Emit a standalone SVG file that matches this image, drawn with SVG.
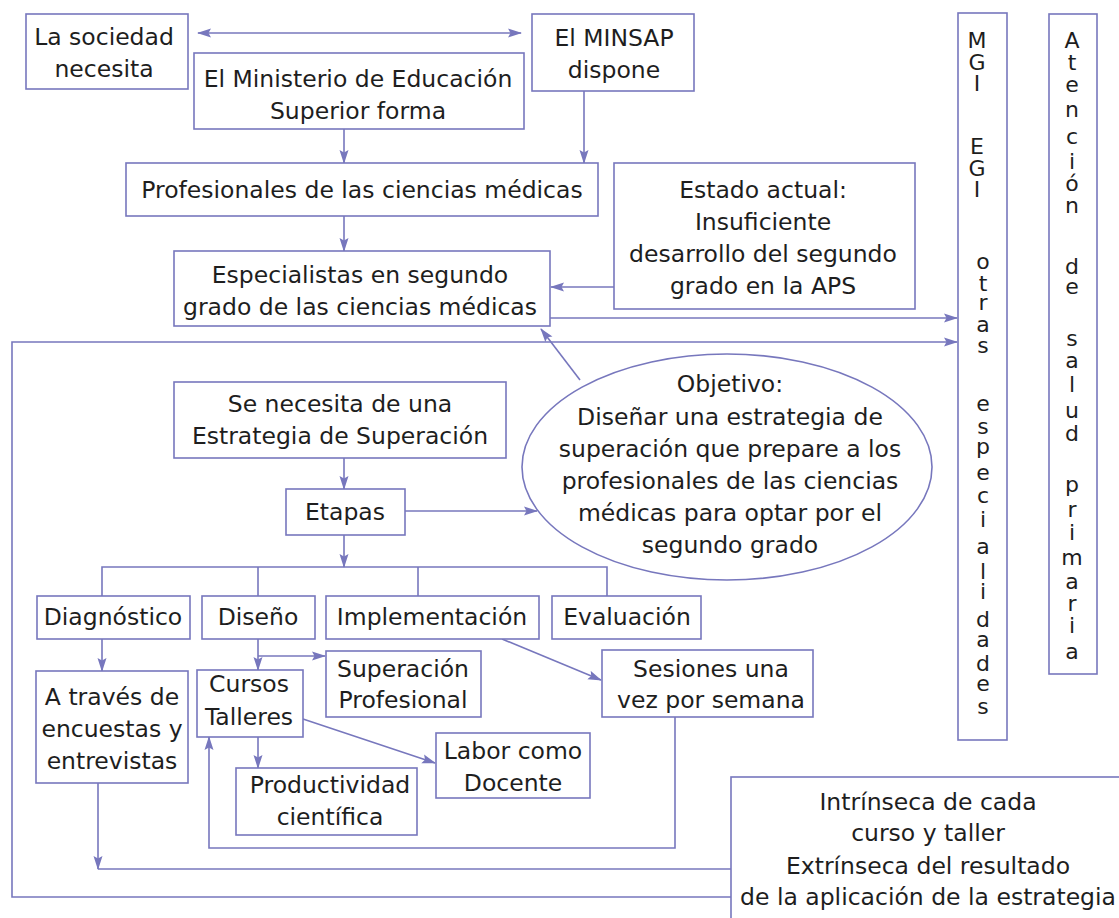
<svg xmlns="http://www.w3.org/2000/svg" width="1119" height="918" viewBox="0 0 1119 918">
<style>
.b{fill:#fff;stroke:#7777bd;stroke-width:1.6}
.t{font-family:"DejaVu Sans","Verdana",sans-serif;font-size:23.5px;fill:#1e1e1e;text-anchor:middle}
.v{font-family:"DejaVu Sans","Verdana",sans-serif;font-size:22px;fill:#1e1e1e;text-anchor:middle}
.c{fill:none;stroke:#7777bd;stroke-width:1.6}
.a{marker-end:url(#ah)}
</style>
<defs>
<marker id="ah" markerWidth="14" markerHeight="10" refX="13" refY="5" orient="auto-start-reverse" markerUnits="userSpaceOnUse">
<path d="M0,0.5 L14,5 L0,9.5 L2.5,5 z" fill="#7777bd"/>
</marker>
</defs>
<rect width="1119" height="918" fill="#fff"/>

<g id="connectors">
<line class="c" x1="198" y1="33" x2="521" y2="33" marker-start="url(#ah)" marker-end="url(#ah)"/>
<line class="c a" x1="344" y1="129" x2="344" y2="163"/>
<line class="c a" x1="584" y1="91" x2="584" y2="163"/>
<line class="c a" x1="344" y1="216" x2="344" y2="251"/>
<line class="c a" x1="614" y1="287" x2="551" y2="287"/>
<line class="c a" x1="550" y1="318" x2="957" y2="318"/>
<polyline class="c a" points="731,897 12,897 12,342 957,342"/>
<line class="c a" x1="580" y1="380" x2="541" y2="329"/>
<line class="c a" x1="344" y1="458" x2="344" y2="489"/>
<line class="c a" x1="405" y1="511" x2="537" y2="511"/>
<line class="c a" x1="344" y1="535" x2="344" y2="567"/>
<polyline class="c" points="102,596 102,567 607,567 607,596"/>
<line class="c" x1="258" y1="567" x2="258" y2="596"/>
<line class="c" x1="418" y1="567" x2="418" y2="596"/>
<line class="c a" x1="102" y1="639" x2="102" y2="671"/>
<line class="c a" x1="258" y1="639" x2="258" y2="670"/>
<line class="c a" x1="258" y1="656" x2="325" y2="656"/>
<line class="c a" x1="502" y1="639" x2="601" y2="680"/>
<line class="c a" x1="303" y1="719" x2="435" y2="763"/>
<line class="c a" x1="258" y1="737" x2="258" y2="768"/>
<line class="c a" x1="98" y1="783" x2="98" y2="869"/>
<line class="c" x1="98" y1="869" x2="731" y2="869"/>
<polyline class="c a" points="675,717 675,848 209,848 209,737"/>
</g>

<g id="n-sociedad"><rect class="b" x="26" y="14" width="162" height="75"/>
<text class="t" x="104" y="45">La sociedad</text><text class="t" x="104" y="77">necesita</text></g>

<g id="n-ministerio"><rect class="b" x="194" y="53" width="330" height="76"/>
<text class="t" x="358" y="87">El Ministerio de Educación</text><text class="t" x="358" y="119">Superior forma</text></g>

<g id="n-minsap"><rect class="b" x="532" y="14" width="162" height="77"/>
<text class="t" x="614" y="46">El MINSAP</text><text class="t" x="614" y="78">dispone</text></g>

<g id="n-profesionales"><rect class="b" x="126" y="163" width="472" height="53"/>
<text class="t" x="362" y="198">Profesionales de las ciencias médicas</text></g>

<g id="n-especialistas"><rect class="b" x="174" y="251" width="376" height="75"/>
<text class="t" x="360" y="283">Especialistas en segundo</text><text class="t" x="360" y="315">grado de las ciencias médicas</text></g>

<g id="n-estado"><rect class="b" x="614" y="163" width="301" height="146"/>
<text class="t" x="763" y="198">Estado actual:</text><text class="t" x="763" y="230">Insuficiente</text>
<text class="t" x="763" y="262">desarrollo del segundo</text><text class="t" x="763" y="294">grado en la APS</text></g>

<g id="n-mgi"><rect class="b" x="958" y="13" width="49" height="727"/>
<text class="v"><tspan x="977" y="48">M</tspan><tspan x="977" y="70">G</tspan><tspan x="977" y="91">I</tspan><tspan x="977" y="154">E</tspan><tspan x="977" y="176">G</tspan><tspan x="977" y="197">I</tspan><tspan x="983" y="269">o</tspan><tspan x="983" y="291">t</tspan><tspan x="983" y="310">r</tspan><tspan x="983" y="332">a</tspan><tspan x="983" y="353">s</tspan><tspan x="983" y="411">e</tspan><tspan x="983" y="434">s</tspan><tspan x="983" y="454">p</tspan><tspan x="983" y="480">e</tspan><tspan x="983" y="503">c</tspan><tspan x="983" y="527">i</tspan><tspan x="983" y="554">a</tspan><tspan x="983" y="579">l</tspan><tspan x="983" y="599">i</tspan><tspan x="983" y="627">d</tspan><tspan x="983" y="647">a</tspan><tspan x="983" y="671">d</tspan><tspan x="983" y="691">e</tspan><tspan x="983" y="714">s</tspan></text></g>

<g id="n-atencion"><rect class="b" x="1049" y="14" width="48" height="660"/>
<text class="v"><tspan x="1072" y="48">A</tspan><tspan x="1072" y="70">t</tspan><tspan x="1072" y="92">e</tspan><tspan x="1072" y="117">n</tspan><tspan x="1072" y="144">c</tspan><tspan x="1072" y="169">i</tspan><tspan x="1072" y="191">ó</tspan><tspan x="1072" y="213">n</tspan><tspan x="1072" y="274">d</tspan><tspan x="1072" y="294">e</tspan><tspan x="1072" y="346">s</tspan><tspan x="1072" y="368">a</tspan><tspan x="1072" y="392">l</tspan><tspan x="1072" y="418">u</tspan><tspan x="1072" y="441">d</tspan><tspan x="1072" y="492">p</tspan><tspan x="1072" y="517">r</tspan><tspan x="1072" y="540">i</tspan><tspan x="1072" y="565">m</tspan><tspan x="1072" y="589">a</tspan><tspan x="1072" y="611">r</tspan><tspan x="1072" y="633">i</tspan><tspan x="1072" y="659">a</tspan></text></g>

<g id="n-se-necesita"><rect class="b" x="174" y="382" width="332" height="76"/>
<text class="t" x="340" y="412">Se necesita de una</text><text class="t" x="340" y="444">Estrategia de Superación</text></g>

<g id="n-etapas"><rect class="b" x="286" y="489" width="119" height="46"/>
<text class="t" x="345" y="520">Etapas</text></g>

<g id="n-objetivo"><ellipse class="b" cx="727" cy="467" rx="205" ry="113"/>
<text class="t" x="730" y="392">Objetivo:</text><text class="t" x="730" y="425">Diseñar una estrategia de</text>
<text class="t" x="730" y="457">superación que prepare a los</text><text class="t" x="730" y="489">profesionales de las ciencias</text>
<text class="t" x="730" y="521">médicas para optar por el</text><text class="t" x="730" y="553">segundo grado</text></g>

<g id="n-diagnostico"><rect class="b" x="37" y="596" width="153" height="43"/>
<text class="t" x="113" y="625">Diagnóstico</text></g>
<g id="n-diseno"><rect class="b" x="202" y="596" width="113" height="43"/>
<text class="t" x="258" y="625">Diseño</text></g>
<g id="n-implementacion"><rect class="b" x="326" y="596" width="213" height="43"/>
<text class="t" x="432" y="625">Implementación</text></g>
<g id="n-evaluacion"><rect class="b" x="552" y="596" width="149" height="43"/>
<text class="t" x="627" y="625">Evaluación</text></g>

<g id="n-a-traves"><rect class="b" x="36" y="671" width="152" height="112"/>
<text class="t" x="112" y="705">A través de</text><text class="t" x="112" y="737">encuestas y</text><text class="t" x="112" y="769">entrevistas</text></g>

<g id="n-cursos"><rect class="b" x="197" y="670" width="106" height="67"/>
<text class="t" x="249" y="692">Cursos</text><text class="t" x="249" y="725">Talleres</text></g>

<g id="n-superacion"><rect class="b" x="326" y="651" width="155" height="66"/>
<text class="t" x="403" y="677">Superación</text><text class="t" x="403" y="708">Profesional</text></g>

<g id="n-sesiones"><rect class="b" x="602" y="650" width="211" height="67"/>
<text class="t" x="711" y="677">Sesiones una</text><text class="t" x="711" y="708">vez por semana</text></g>

<g id="n-productividad"><rect class="b" x="236" y="768" width="181" height="67"/>
<text class="t" x="330" y="793">Productividad</text><text class="t" x="330" y="825">científica</text></g>

<g id="n-labor"><rect class="b" x="436" y="733" width="154" height="65"/>
<text class="t" x="513" y="759">Labor como</text><text class="t" x="513" y="791">Docente</text></g>

<g id="n-intrinseca"><rect class="b" x="731" y="777" width="400" height="160"/>
<text class="t" x="928" y="810">Intrínseca de cada</text><text class="t" x="928" y="841">curso y taller</text>
<text class="t" x="928" y="874">Extrínseca del resultado</text><text class="t" x="928" y="905">de la aplicación de la estrategia</text></g>
</svg>
